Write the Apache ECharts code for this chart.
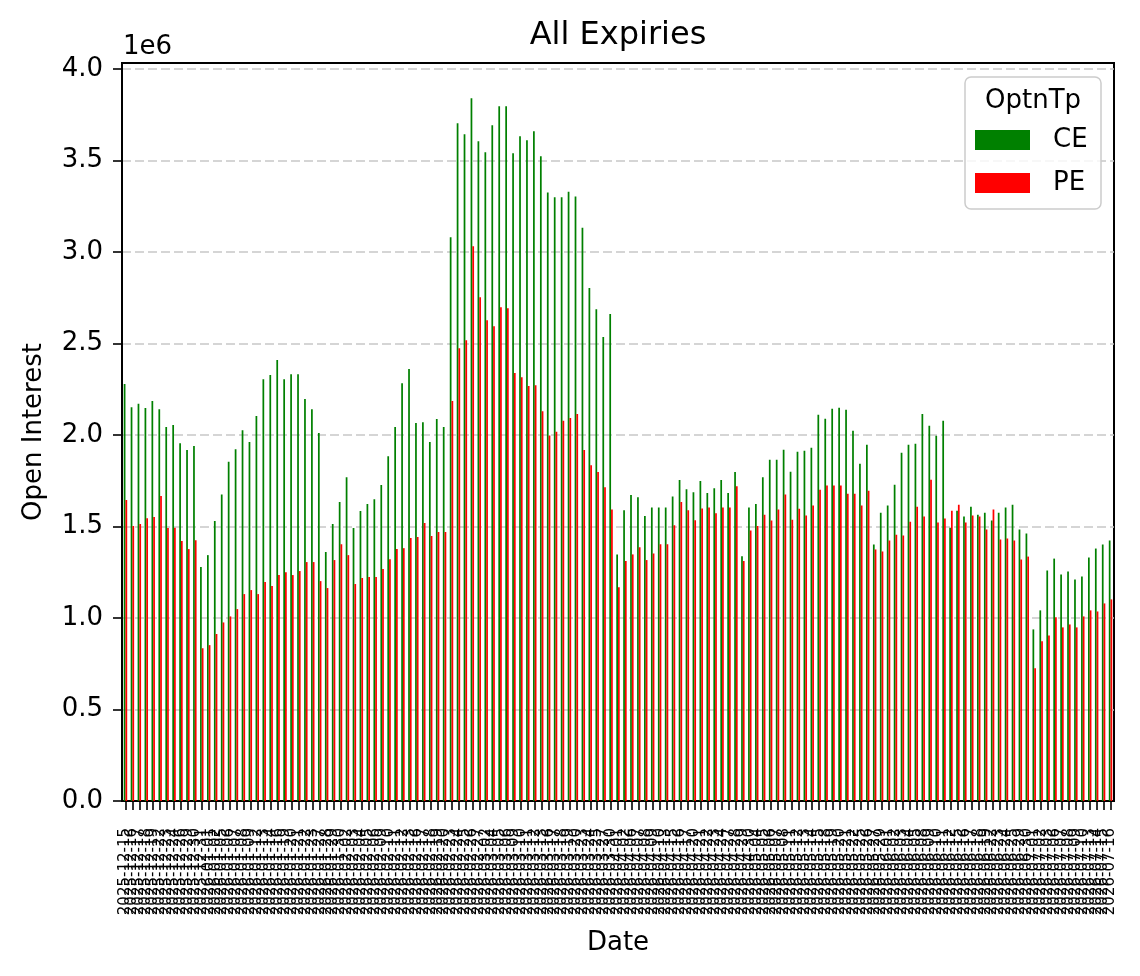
<!DOCTYPE html>
<html>
<head>
<meta charset="utf-8">
<title>All Expiries</title>
<script src="https://cdn.jsdelivr.net/npm/echarts@6/dist/echarts.min.js"></script>
<style>
html, body { margin: 0; padding: 0; background: #fff; }
#main { width: 1140px; height: 976px; }
</style>
</head>
<body>
<div id="main"></div>
<script>
// trading dates (x categories)
var dates = [
    '2025-12-15','2025-12-16','2025-12-17','2025-12-18','2025-12-19','2025-12-22','2025-12-23','2025-12-24','2025-12-26','2025-12-29','2025-12-30','2025-12-31',
    '2026-01-01','2026-01-02','2026-01-05','2026-01-06','2026-01-07','2026-01-08','2026-01-09','2026-01-12','2026-01-13','2026-01-14','2026-01-16',
    '2026-01-19','2026-01-20','2026-01-21','2026-01-22','2026-01-23','2026-01-27','2026-01-28','2026-01-29','2026-01-30',
    '2026-02-02','2026-02-03','2026-02-04','2026-02-05','2026-02-06','2026-02-09','2026-02-10','2026-02-11','2026-02-12','2026-02-13',
    '2026-02-16','2026-02-17','2026-02-18','2026-02-19','2026-02-20','2026-02-23','2026-02-24','2026-02-25','2026-02-26','2026-02-27',
    '2026-03-02','2026-03-04','2026-03-05','2026-03-06','2026-03-09','2026-03-10','2026-03-11','2026-03-12','2026-03-13',
    '2026-03-16','2026-03-17','2026-03-18','2026-03-19','2026-03-20','2026-03-23','2026-03-24','2026-03-25','2026-03-27','2026-03-30',
    '2026-04-01','2026-04-02','2026-04-06','2026-04-07','2026-04-08','2026-04-09','2026-04-10','2026-04-13','2026-04-15','2026-04-16','2026-04-17',
    '2026-04-20','2026-04-21','2026-04-22','2026-04-23','2026-04-24','2026-04-27','2026-04-28','2026-04-29','2026-04-30',
    '2026-05-04','2026-05-05','2026-05-06','2026-05-07','2026-05-08','2026-05-11','2026-05-12','2026-05-13','2026-05-14','2026-05-15',
    '2026-05-18','2026-05-19','2026-05-20','2026-05-21','2026-05-22','2026-05-25','2026-05-26','2026-05-27','2026-05-29',
    '2026-06-01','2026-06-02','2026-06-03','2026-06-04','2026-06-05','2026-06-08','2026-06-09','2026-06-10','2026-06-11','2026-06-12',
    '2026-06-15','2026-06-16','2026-06-17','2026-06-18','2026-06-19','2026-06-22','2026-06-23','2026-06-24','2026-06-25','2026-06-29','2026-06-30',
    '2026-07-01','2026-07-02','2026-07-03','2026-07-06','2026-07-07','2026-07-08','2026-07-09','2026-07-10','2026-07-13','2026-07-14','2026-07-15','2026-07-16'
];

// call open interest
var ceOI = [
    2280000,2153000,2171000,2148000,2186000,2142000,2044000,2055000,1956000,1918000,1940000,1279000,
    1344000,1530000,1675000,1855000,1923000,2027000,1962000,2104000,2306000,2328000,2410000,
    2306000,2333000,2333000,2197000,2142000,2011000,1361000,1514000,1634000,
    1770000,1492000,1585000,1623000,1650000,1727000,1885000,2044000,2284000,2361000,
    2066000,2071000,1962000,2088000,2044000,3082000,3705000,3645000,3842000,3607000,
    3546000,3694000,3798000,3798000,3541000,3634000,3612000,3661000,3524000,
    3326000,3300000,3300000,3330000,3304000,3134000,2804000,2688000,2537000,2662000,
    1348000,1589000,1673000,1660000,1558000,1605000,1605000,1605000,1665000,1754000,1704000,
    1688000,1749000,1683000,1709000,1754000,1683000,1798000,1338000,1605000,
    1623000,1770000,1865000,1865000,1920000,1800000,1909000,1915000,1931000,2111000,
    2089000,2144000,2149000,2138000,2024000,1844000,1947000,1402000,1576000,
    1615000,1729000,1904000,1947000,1953000,2116000,2051000,1996000,2078000,1493000,
    1587000,1555000,1609000,1565000,1576000,1533000,1576000,1604000,1620000,1484000,1462000,
    938000,1042000,1260000,1325000,1238000,1255000,1211000,1227000,1331000,1380000,1402000,1424000
];

// put open interest
var peOI = [
    1645000,1503000,1514000,1546000,1552000,1667000,1492000,1494000,1421000,1377000,1426000,835000,
    852000,913000,976000,1009000,1049000,1131000,1153000,1131000,1197000,1175000,1235000,
    1251000,1235000,1257000,1306000,1306000,1202000,1164000,1317000,1404000,
    1344000,1186000,1219000,1224000,1224000,1268000,1322000,1377000,1382000,1437000,
    1443000,1519000,1448000,1470000,1470000,2186000,2475000,2519000,3033000,2754000,
    2628000,2595000,2699000,2694000,2339000,2317000,2268000,2273000,2131000,
    1998000,2018000,2079000,2094000,2115000,1919000,1835000,1798000,1715000,1594000,
    1168000,1312000,1348000,1387000,1317000,1353000,1403000,1403000,1508000,1634000,1589000,
    1534000,1599000,1605000,1573000,1605000,1605000,1720000,1312000,1479000,
    1503000,1565000,1533000,1593000,1675000,1538000,1598000,1560000,1615000,1702000,
    1724000,1724000,1724000,1680000,1680000,1615000,1696000,1375000,1364000,
    1424000,1456000,1451000,1527000,1609000,1555000,1756000,1522000,1544000,1587000,
    1620000,1522000,1560000,1555000,1484000,1593000,1429000,1435000,1424000,1320000,1336000,
    725000,873000,905000,1004000,949000,965000,949000,1009000,1042000,1036000,1080000,1102000
];

var seriesNames = ['CE', 'PE'];
var seriesColors = ['#008000', '#ff0000'];

var FONT = 'DejaVu Sans';
var myChart = echarts.init(document.getElementById('main'));

// matplotlib style 5% headroom above tallest bar
var yMax = Math.max(Math.max.apply(null, ceOI), Math.max.apply(null, peOI)) * 1.05;

var option = {
    animation: false,
    backgroundColor: '#fff',
    title: {
        text: 'All Expiries',
        left: 618,
        top: 20,
        padding: 0,
        textAlign: 'center',
        textStyle: {fontFamily: FONT, fontSize: 32, fontWeight: 'normal', color: '#000'}
    },
    legend: {
        orient: 'vertical',
        left: 975,
        top: 127,
        padding: 0,
        itemWidth: 55,
        itemHeight: 20,
        itemGap: 17,
        icon: 'rect',
        selectedMode: false,
        data: seriesNames,
        textStyle: {fontFamily: FONT, fontSize: 26, color: '#000', lineHeight: 26, padding: [0, 0, 0, 18]}
    },
    grid: {
        left: 122,
        right: 26,
        top: 63,
        bottom: 175,
        show: true,
        borderColor: '#000',
        borderWidth: 2,
        backgroundColor: 'transparent'
    },
    xAxis: {
        type: 'category',
        data: dates,
        name: 'Date',
        nameLocation: 'middle',
        nameGap: 129,
        nameTextStyle: {fontFamily: FONT, fontSize: 26, color: '#000'},
        axisLine: {lineStyle: {color: '#000', width: 2}},
        axisTick: {show: true, interval: 0, alignWithLabel: true, length: 9, lineStyle: {color: '#000', width: 1.6}},
        axisLabel: {interval: 0, rotate: 90, margin: 27, fontFamily: FONT, fontSize: 15, color: '#000'},
        splitLine: {show: false}
    },
    yAxis: {
        type: 'value',
        min: 0,
        max: yMax,
        interval: 500000,
        name: 'Open Interest',
        nameLocation: 'middle',
        nameGap: 75,
        nameTextStyle: {fontFamily: FONT, fontSize: 26, color: '#000'},
        axisLine: {show: true, lineStyle: {color: '#000', width: 2}},
        axisTick: {show: true, length: 9, lineStyle: {color: '#000', width: 1.6}},
        axisLabel: {
            margin: 19,
            showMaxLabel: false,
            fontFamily: FONT,
            fontSize: 26,
            color: '#000',
            formatter: function (v) { return (v / 1e6).toFixed(1); }
        },
        splitLine: {show: true, showMaxLine: false, lineStyle: {color: '#c8c8c8', width: 1.5, type: [9, 4]}}
    },
    graphic: [
        {   // offset text for the y axis
            type: 'text',
            left: 123,
            top: 34,
            style: {text: '1e6', font: '26px "DejaVu Sans"', fill: '#000'}
        },
        {   // legend frame
            type: 'rect',
            shape: {x: 965, y: 77, width: 136, height: 132, r: 6},
            style: {fill: 'rgba(255,255,255,0.8)', stroke: '#cccccc', lineWidth: 1.5},
            z: 1
        },
        {   // legend title
            type: 'text',
            x: 1033,
            y: 101,
            style: {text: 'OptnTp', font: '26px "DejaVu Sans"', fill: '#000', align: 'center', verticalAlign: 'middle'},
            z: 2
        }
    ],
    series: [
        {
            name: seriesNames[0],
            type: 'bar',
            data: ceOI,
            barWidth: '25%',
            barGap: '0%',
            itemStyle: {color: seriesColors[0]}
        },
        {
            name: seriesNames[1],
            type: 'bar',
            data: peOI,
            barWidth: '25%',
            barGap: '0%',
            itemStyle: {color: seriesColors[1]}
        }
    ]
};

myChart.setOption(option);
</script>
</body>
</html>
